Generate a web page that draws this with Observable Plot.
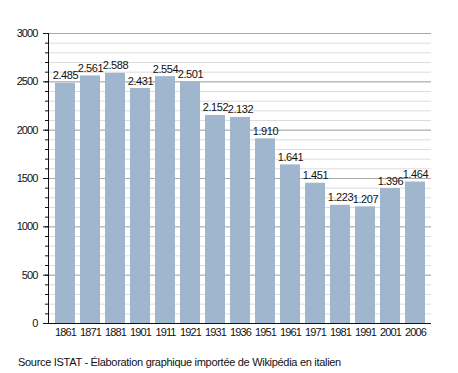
<!DOCTYPE html>
<html>
<head>
<meta charset="utf-8">
<script src="https://cdn.jsdelivr.net/npm/d3@7"></script>
<script src="https://cdn.jsdelivr.net/npm/@observablehq/plot@0.6"></script>
<style>
  body { margin: 0; background: #fff; font-family: "Liberation Sans", Arial, sans-serif; }
  #caption { font-size: 11px; color: #111; margin: 13px 0 0 18px; letter-spacing: -0.3px; }
  svg g[aria-label="y-axis tick label"] text,
  svg g[aria-label="x-axis tick label"] text { letter-spacing: -0.9px; }
  svg g[aria-label="text"] text { letter-spacing: -0.4px; }
</style>
</head>
<body>
<div id="chart"></div>
<div id="caption">Source ISTAT - Élaboration graphique importée de Wikipédia en italien</div>
<script>
const years = ["1861","1871","1881","1901","1911","1921","1931","1936","1951","1961","1971","1981","1991","2001","2006"];
const population = [2485, 2561, 2588, 2431, 2554, 2501, 2152, 2132, 1910, 1641, 1451, 1223, 1207, 1396, 1464];
const majorTicks = [0, 500, 1000, 1500, 2000, 2500, 3000];
const minorTicks = d3.range(0, 3001, 100);

const data = years.map((y, i) => ({year: y, pop: population[i]}));
const fmt = v => d3.format(",")(v).replace(/,/g, ".");

const chart = Plot.plot({
  width: 458,
  height: 343,
  marginLeft: 48,
  marginRight: 27,
  marginTop: 33,
  marginBottom: 20,
  style: {fontFamily: "Liberation Sans, Arial, sans-serif", fontSize: "11px", color: "#111"},
  x: {domain: years, paddingInner: 0.2, paddingOuter: 0.06, label: null},
  y: {domain: [0, 3000], label: null},
  marks: [
    Plot.ruleY(minorTicks, {stroke: "#dcdcdc"}),
    Plot.ruleY(majorTicks, {stroke: "#aaaaaa"}),
    Plot.barY(data, {x: "year", y: "pop", fill: "#a0b6ce"}),
    Plot.text(data, {x: "year", y: "pop", text: d => fmt(d.pop), dy: -4, lineAnchor: "bottom", fill: "#111", fontSize: 11}),
    Plot.axisY({ticks: minorTicks, tickSize: 3, text: null, stroke: "#111"}),
    Plot.axisY({ticks: majorTicks, tickSize: 5, tickPadding: 6, tickFormat: d => String(d), stroke: "#111", fontSize: 11}),
    Plot.axisX({tickSize: 0, tickPadding: 5, fontSize: 11}),
    Plot.frame({anchor: "left", stroke: "#111"}),
    Plot.ruleY([0], {stroke: "#111"})
  ]
});
document.getElementById("chart").appendChild(chart);
</script>
</body>
</html>
